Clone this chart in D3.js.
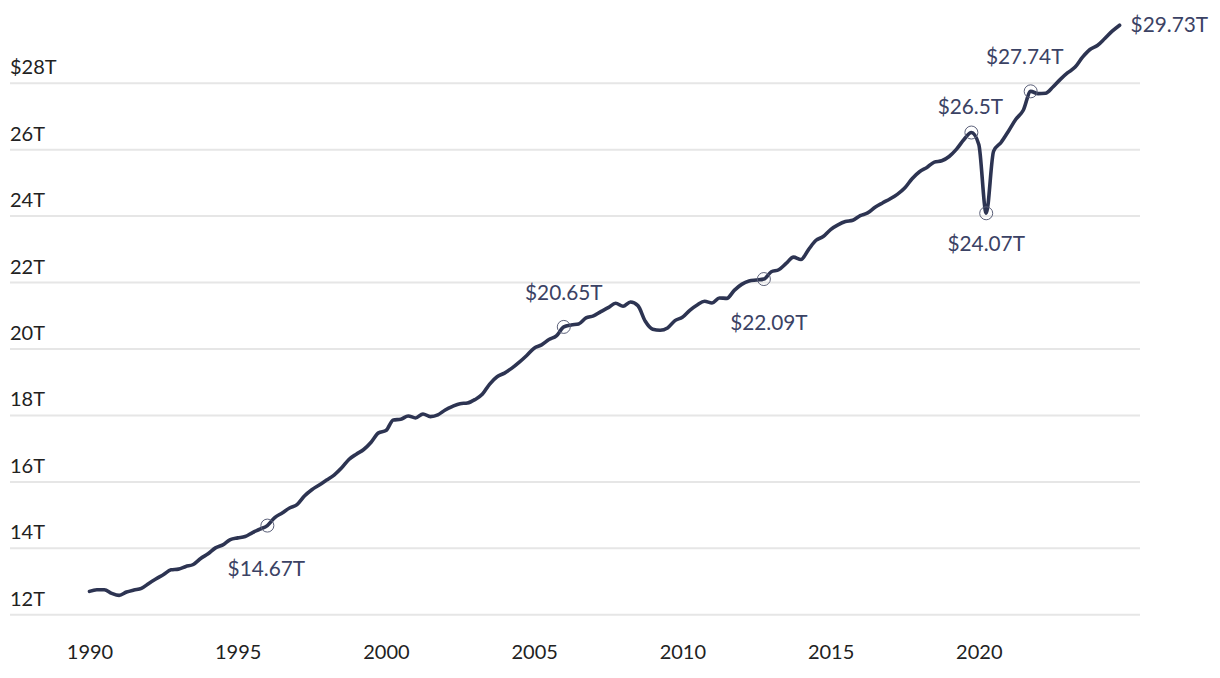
<!DOCTYPE html>
<html>
<head>
<meta charset="utf-8">
<script src="https://cdn.jsdelivr.net/npm/d3@7"></script>
<style>
  html, body { margin: 0; padding: 0; background: #ffffff; }
  svg { display: block; font-family: Lato, "Open Sans", sans-serif; }
</style>
</head>
<body>
<svg id="chart" width="1220" height="678"></svg>
<script>
// ---- data (trillions of dollars, quarterly, 1990 Q1 – 2024 Q4) ----
const startYear = 1990;
const gdp = [
  12.69, 12.74, 12.74, 12.63,   // 1990
  12.57, 12.67, 12.73, 12.78,   // 1991
  12.93, 13.07, 13.20, 13.34,   // 1992
  13.36, 13.44, 13.50, 13.68,   // 1993
  13.82, 14.00, 14.09, 14.25,   // 1994
  14.30, 14.34, 14.46, 14.56,   // 1995
  14.67, 14.91, 15.05, 15.20,   // 1996
  15.30, 15.56, 15.75, 15.89,   // 1997
  16.04, 16.19, 16.40, 16.66,   // 1998
  16.82, 16.96, 17.18, 17.46,   // 1999
  17.53, 17.85, 17.87, 17.97,   // 2000
  17.91, 18.03, 17.95, 18.00,   // 2001
  18.15, 18.26, 18.34, 18.36,   // 2002
  18.46, 18.62, 18.93, 19.15,   // 2003
  19.26, 19.41, 19.59, 19.79,   // 2004
  20.01, 20.11, 20.27, 20.38,   // 2005
  20.65, 20.71, 20.74, 20.92,   // 2006
  20.98, 21.11, 21.23, 21.36,   // 2007
  21.27, 21.40, 21.29, 20.82,   // 2008
  20.58, 20.55, 20.62, 20.84,   // 2009
  20.94, 21.15, 21.31, 21.42,   // 2010
  21.37, 21.52, 21.51, 21.75,   // 2011
  21.93, 22.03, 22.06, 22.09,   // 2012
  22.31, 22.37, 22.56, 22.75,   // 2013
  22.68, 22.97, 23.25, 23.37,   // 2014
  23.58, 23.72, 23.82, 23.86,   // 2015
  24.00, 24.08, 24.25, 24.38,   // 2016
  24.50, 24.64, 24.83, 25.11,   // 2017
  25.32, 25.45, 25.61, 25.65,   // 2018
  25.78, 26.00, 26.29, 26.50,   // 2019
  26.14, 24.07, 25.94, 26.20,   // 2020
  26.54, 26.90, 27.17, 27.74,   // 2021
  27.67, 27.68, 27.87, 28.10,   // 2022
  28.30, 28.47, 28.77, 29.00,   // 2023
  29.12, 29.33, 29.55, 29.73    // 2024
];
const yTicks = [12, 14, 16, 18, 20, 22, 24, 26, 28];
const yTickLabels = ["12T", "14T", "16T", "18T", "20T", "22T", "24T", "26T", "$28T"];
const xTicks = [1990, 1995, 2000, 2005, 2010, 2015, 2020];
const xTickLabels = ["1990", "1995", "2000", "2005", "2010", "2015", "2020"];
// annotated points: [quarter index, label]
const annotIndex = [24, 64, 91, 119, 121, 127];
const annotLabels = ["$14.67T", "$20.65T", "$22.09T", "$26.5T", "$24.07T", "$27.74T"];
const endLabel = "$29.73T";

// ---- layout / style (kept apart from the data) ----
const annotOffsets = [[-1, 50], [0, -27], [5, 51], [-1, -19], [0, 38], [-6, -27]];
const lineColor = "#2d3452";
const annotColor = "#3b4264";
const axisColor = "#222222";
const gridColor = "#e6e6e6";
const axisFont = 20;
const annotFont = 20.8;

const series = gdp.map((v, i) => ({ t: startYear + i / 4, v }));

const svg = d3.select("#chart");
const x = d3.scaleLinear().domain([1990, 2020]).range([89.5, 978.8]);
const y = d3.scaleLinear().domain([12, 28]).range([614.3, 82.7]);

// gridlines + y labels
const yAxis = d3.axisLeft(y).tickValues(yTicks).tickSize(0)
  .tickFormat((d, i) => yTickLabels[i]);
const gy = svg.append("g").call(yAxis);
gy.select(".domain").remove();
gy.selectAll(".tick line").remove();
gy.selectAll(".tick").append("line")
  .attr("x1", 10).attr("x2", 1140)
  .attr("stroke", gridColor).attr("stroke-width", 2);
gy.selectAll(".tick text")
  .attr("x", 10).attr("dy", null).attr("y", -9)
  .attr("text-anchor", "start")
  .attr("fill", axisColor)
  .style("font-size", axisFont + "px")
  .style("font-family", "Lato, 'Open Sans', sans-serif");

// x labels
const xAxis = d3.axisBottom(x).tickValues(xTicks).tickSize(0)
  .tickFormat((d, i) => xTickLabels[i]);
const gx = svg.append("g").attr("transform", "translate(0,659)").call(xAxis);
gx.select(".domain").remove();
gx.selectAll(".tick text")
  .attr("y", 0).attr("dy", null)
  .attr("fill", axisColor)
  .style("font-size", axisFont + "px")
  .style("font-family", "Lato, 'Open Sans', sans-serif");

// line
const line = d3.line()
  .x(d => x(d.t))
  .y(d => y(d.v))
  .curve(d3.curveMonotoneX);
svg.append("path")
  .datum(series)
  .attr("d", line)
  .attr("fill", "none")
  .attr("stroke", lineColor)
  .attr("stroke-width", 3.6)
  .attr("stroke-linejoin", "round")
  .attr("stroke-linecap", "round");

// annotations
annotIndex.forEach((qi, k) => {
  const d = series[qi];
  const cx = x(d.t), cy = y(d.v);
  svg.append("circle")
    .attr("cx", cx).attr("cy", cy).attr("r", 6.5)
    .attr("fill", "none")
    .attr("stroke", "#5b6079")
    .attr("stroke-width", 1);
  svg.append("text")
    .attr("x", cx + annotOffsets[k][0])
    .attr("y", cy + annotOffsets[k][1])
    .attr("text-anchor", "middle")
    .attr("fill", annotColor)
    .style("font-size", annotFont + "px")
    .text(annotLabels[k]);
});

// end label
const last = series[series.length - 1];
svg.append("text")
  .attr("x", x(last.t) + 11)
  .attr("y", y(last.v) + 7)
  .attr("text-anchor", "start")
  .attr("fill", annotColor)
  .style("font-size", annotFont + "px")
  .text(endLabel);
</script>
</body>
</html>
